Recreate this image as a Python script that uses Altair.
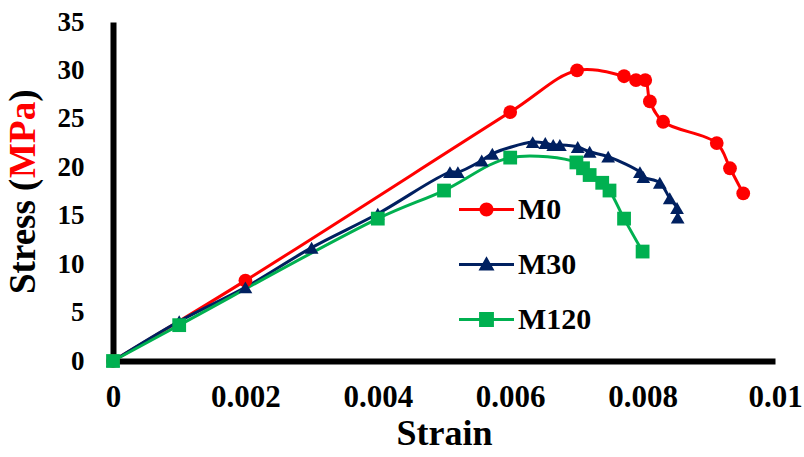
import altair as alt
import pandas as pd

# ---------------- data ----------------
series_names = ["M0", "M30", "M120"]
series_colors = ["#FF0000", "#002060", "#00B050"]

m0_strain = [0, 0.002, 0.006, 0.00701, 0.00772, 0.0079, 0.00804, 0.00811, 0.00831, 0.00912, 0.00932, 0.00952]
m0_stress = [0, 8.3, 25.7, 30.0, 29.4, 29.0, 29.0, 26.8, 24.7, 22.5, 19.9, 17.3]

m30_strain = [0, 0.001, 0.002, 0.003, 0.004, 0.00509, 0.00521, 0.00557, 0.00573, 0.00634, 0.00653,
              0.00665, 0.00675, 0.00702, 0.0072, 0.00748, 0.00796, 0.00801, 0.00826, 0.00841, 0.00852, 0.00853]
m30_stress = [0, 4.1, 7.6, 11.7, 15.2, 19.5, 19.5, 20.7, 21.4, 22.6, 22.5,
              22.3, 22.3, 22.1, 21.6, 21.1, 19.5, 19.0, 18.4, 16.8, 15.8, 14.8]

m120_strain = [0, 0.001, 0.004, 0.005, 0.006, 0.007, 0.0071, 0.0072, 0.00739, 0.0075, 0.00772, 0.008]
m120_stress = [0, 3.7, 14.7, 17.6, 21.0, 20.5, 19.9, 19.2, 18.4, 17.6, 14.7, 11.3]

x_ticks = [0, 0.002, 0.004, 0.006, 0.008, 0.01]
y_ticks = [0, 5, 10, 15, 20, 25, 30, 35]

rows = []
for name, xs, ys in [("M0", m0_strain, m0_stress), ("M30", m30_strain, m30_stress), ("M120", m120_strain, m120_stress)]:
    for i, (xv, yv) in enumerate(zip(xs, ys)):
        rows.append({"series": name, "strain": xv, "stress": yv, "idx": i})
df = pd.DataFrame(rows)

# ---------------- style ----------------
FONT = "Liberation Serif"
W, H = 662, 339
PAD = {"left": 113, "top": 22, "right": 29, "bottom": 96}

x_enc = alt.X(
    "strain:Q",
    scale=alt.Scale(domain=[0, 0.01], nice=False, zero=False),
    axis=alt.Axis(values=x_ticks, format=".3~f", title="Strain", grid=False, ticks=False, tickSize=0,
                  domainColor="black", domainWidth=6, labelFont=FONT, labelFontSize=31,
                  labelFontWeight="bold", labelColor="black", labelPadding=21, labelFlush=False,
                  labelOverlap=False, titleFont=FONT, titleFontSize=36, titleFontWeight="bold",
                  titleColor="black", titlePadding=4),
)
y_enc = alt.Y(
    "stress:Q",
    scale=alt.Scale(domain=[0, 35], nice=False),
    axis=alt.Axis(values=y_ticks, title=None, grid=False, ticks=False, tickSize=0,
                  domainColor="black", domainWidth=6, labelFont=FONT, labelFontSize=27,
                  labelFontWeight="bold", labelColor="black", labelPadding=29, labelOverlap=False),
)

lines = alt.Chart(df).mark_line(strokeWidth=3, interpolate="catmull-rom").encode(
    x=x_enc, y=y_enc,
    color=alt.Color("series:N", scale=alt.Scale(domain=series_names, range=series_colors), legend=None),
    order="idx:Q",
)

points = alt.Chart(df).mark_point(filled=True, opacity=1, size=190).encode(
    x=x_enc, y=y_enc,
    color=alt.Color("series:N", scale=alt.Scale(domain=series_names, range=series_colors), legend=None),
    shape=alt.Shape("series:N", scale=alt.Scale(domain=series_names, range=["circle", "triangle-up", "square"]),
                    legend=None),
)

# legend symbols: a line with the marker on it (degenerate sub-paths give every symbol the same height)
LINE = "M0,-1L0,-1ZM0,1L0,1ZM-1,-0.055L1,-0.055L1,0.055L-1,0.055Z"
legend_paths = [
    LINE + "M-0.255,0A0.255,0.255,0,1,1,0.255,0A0.255,0.255,0,1,1,-0.255,0Z",
    LINE + "M0,-0.3L0.29,0.22L-0.29,0.22Z",
    LINE + "M-0.27,-0.27L0.27,-0.27L0.27,0.27L-0.27,0.27Z",
]
leg = alt.Legend(orient="none", legendX=346, legendY=160, title=None, padding=0,
                 labelFont=FONT, labelFontSize=30, labelFontWeight="bold", labelColor="black",
                 symbolSize=3025, symbolStrokeWidth=0, rowPadding=0, labelOffset=4, labelLimit=300)

legend_layer = alt.Chart(df).transform_filter("false").mark_point(filled=True, opacity=1, size=3025).encode(
    x=x_enc, y=y_enc,
    color=alt.Color("series:N", scale=alt.Scale(domain=series_names, range=series_colors), legend=leg),
    shape=alt.Shape("series:N", scale=alt.Scale(domain=series_names, range=legend_paths), legend=leg),
)

# y-axis title in two colours
TFS = 37
w_stress = 3.138 * TFS   # "Stress ("
w_mpa = 2.055 * TFS      # "MPa"
title_base_y = 272
one = pd.DataFrame({"k": [0]})


def piece(text, color, offset):
    return alt.Chart(one).mark_text(
        text=text, angle=270, align="left", baseline="alphabetic", font=FONT,
        fontSize=TFS, fontWeight="bold", color=color,
    ).encode(x=alt.value(-78), y=alt.value(title_base_y - offset))


title_layers = [
    piece("Stress (", "black", 0),
    piece("MPa", "#FF0000", w_stress),
    piece(")", "black", w_stress + w_mpa),
]

chart = alt.layer(lines, points, legend_layer, *title_layers).resolve_scale(
    color="independent", shape="independent"
).properties(
    width=W, height=H, padding=PAD, autosize=alt.AutoSizeParams(type="none"), background="white"
).configure_view(stroke=None)

chart.save("out.html", embed_options={"renderer": "svg", "actions": False})
